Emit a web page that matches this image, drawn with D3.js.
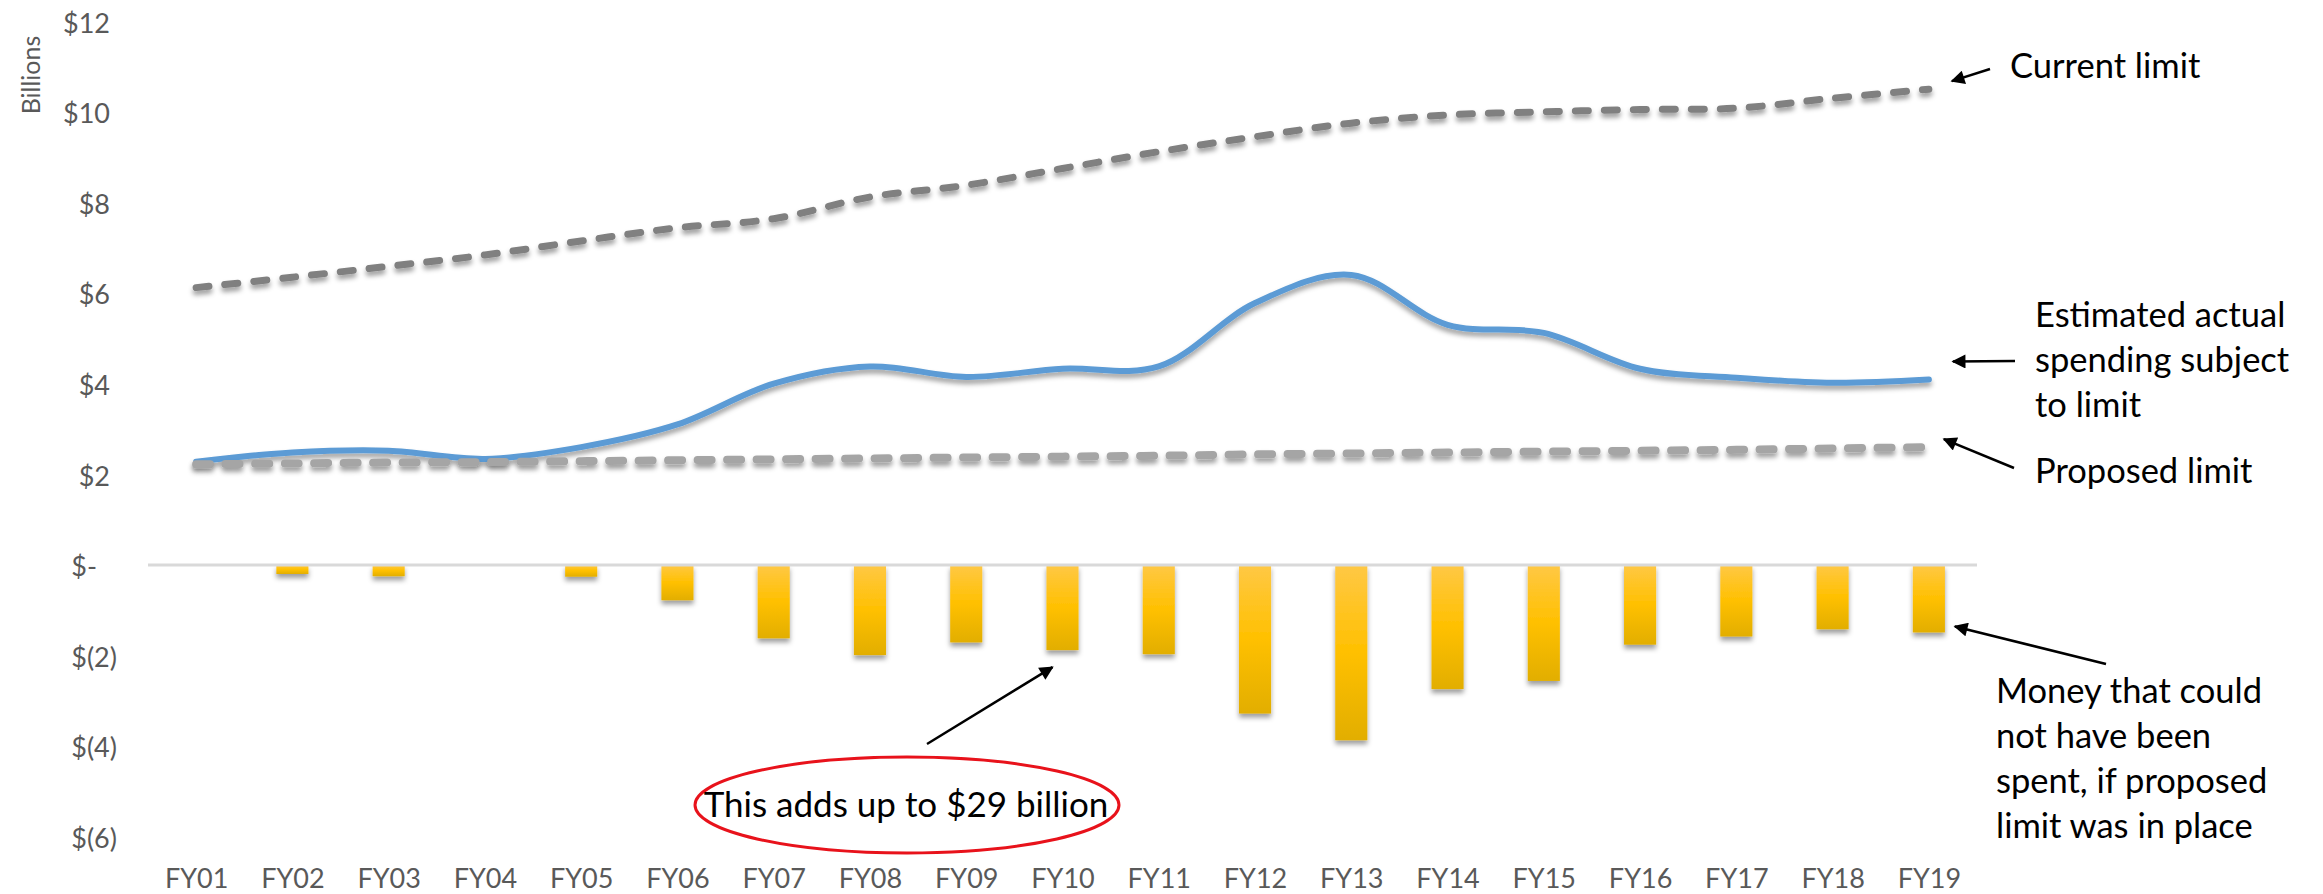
<!DOCTYPE html>
<html>
<head>
<meta charset="utf-8">
<script src="https://cdn.jsdelivr.net/npm/d3@7"></script>
<style>
  html, body { margin: 0; padding: 0; background: #fff; }
  svg { display: block; }
  text { font-family: Lato, "Open Sans", sans-serif; }
</style>
</head>
<body>
<svg id="chart" width="2323" height="894"></svg>
<script>
// Fiscal years on the category axis
const years = ["FY01","FY02","FY03","FY04","FY05","FY06","FY07","FY08","FY09","FY10",
               "FY11","FY12","FY13","FY14","FY15","FY16","FY17","FY18","FY19"];

// Billions of dollars
const currentLimit = [6.12, 6.35, 6.59, 6.84, 7.15, 7.44, 7.64, 8.12, 8.38, 8.75,
                      9.12, 9.45, 9.75, 9.93, 10.0, 10.05, 10.08, 10.3, 10.5];
const actualSpending = [2.28, 2.48, 2.52, 2.34, 2.6, 3.1, 4.0, 4.38, 4.15, 4.33,
                        4.38, 5.78, 6.4, 5.3, 5.12, 4.33, 4.13, 4.02, 4.09];
const proposedLimit = [2.22, 2.24, 2.26, 2.27, 2.29, 2.31, 2.33, 2.35, 2.37, 2.39,
                       2.41, 2.44, 2.46, 2.48, 2.5, 2.52, 2.54, 2.57, 2.6];
// Spending above the proposed limit (shown as negative bars)
const notSpendable = [0, -0.2, -0.25, 0, -0.26, -0.78, -1.62, -1.99, -1.71, -1.88,
                      -1.97, -3.28, -3.87, -2.74, -2.56, -1.76, -1.58, -1.42, -1.49];

const yTicks = [12, 10, 8, 6, 4, 2, 0, -2, -4, -6];

const svg = d3.select("#chart");

const x = d3.scalePoint().domain(years).range([148, 1977]).padding(0.5);
const step = x.step();
const y = d3.scaleLinear().domain([-6, 12]).range([836.8, 21.2]);

const defs = svg.append("defs");

const shadow = defs.append("filter")
  .attr("id", "shadow")
  .attr("filterUnits", "userSpaceOnUse")
  .attr("x", 0).attr("y", 0).attr("width", 2323).attr("height", 894);
shadow.append("feDropShadow")
  .attr("dx", 0).attr("dy", 4).attr("stdDeviation", 2.4)
  .attr("flood-color", "#000").attr("flood-opacity", 0.38);

const grad = defs.append("linearGradient")
  .attr("id", "gold").attr("x1", 0).attr("y1", 0).attr("x2", 0).attr("y2", 1);
grad.append("stop").attr("offset", "0%").attr("stop-color", "#FFC845");
grad.append("stop").attr("offset", "50%").attr("stop-color", "#FFC000");
grad.append("stop").attr("offset", "100%").attr("stop-color", "#E2AE00");

defs.append("marker")
  .attr("id", "head")
  .attr("viewBox", "0 0 10 10")
  .attr("refX", 9).attr("refY", 5)
  .attr("markerWidth", 16).attr("markerHeight", 14)
  .attr("markerUnits", "userSpaceOnUse")
  .attr("orient", "auto")
  .append("path").attr("d", "M0,0 L10,5 L0,10 Z").attr("fill", "#000");

// Y axis
const fmt = v => v > 0 ? `$${v}` : v < 0 ? `$(${-v})` : "$-";
const yAxis = svg.append("g")
  .attr("transform", "translate(110,0)")
  .call(d3.axisLeft(y).tickValues(yTicks).tickSize(0).tickPadding(0).tickFormat(fmt));
yAxis.select(".domain").remove();
yAxis.selectAll("text")
  .attr("font-family", "Lato, sans-serif")
  .attr("font-size", 27)
  .attr("fill", "#595959")
  .attr("dy", "0.4em")
  .attr("x", d => d < 0 ? 7 : d === 0 ? -13 : 0);

svg.append("text")
  .attr("transform", "translate(40,75) rotate(-90)")
  .attr("text-anchor", "middle")
  .attr("font-size", 25)
  .attr("fill", "#595959")
  .text("Billions");

// X axis
const xAxis = svg.append("g")
  .attr("transform", "translate(0,869)")
  .call(d3.axisBottom(x).tickSize(0).tickPadding(0));
xAxis.select(".domain").remove();
xAxis.selectAll("text")
  .attr("font-family", "Lato, sans-serif")
  .attr("font-size", 27)
  .attr("fill", "#595959")
  .attr("dy", "0.71em");

// Bars
const barW = step / 3;
svg.append("g").selectAll("rect")
  .data(years.map((d, i) => ({ year: d, v: notSpendable[i] })).filter(d => d.v !== 0))
  .join("rect")
  .attr("x", d => x(d.year) - barW / 2)
  .attr("y", d => y(Math.max(0, d.v)))
  .attr("width", barW)
  .attr("height", d => Math.abs(y(d.v) - y(0)))
  .attr("fill", "url(#gold)")
  .attr("filter", "url(#shadow)");

// Zero line
svg.append("line")
  .attr("x1", x.range()[0]).attr("x2", x.range()[1])
  .attr("y1", y(0)).attr("y2", y(0))
  .attr("stroke", "#D9D9D9").attr("stroke-width", 3);

// Lines
const line = d3.line()
  .x((d, i) => x(years[i]))
  .y(d => y(d))
  .curve(d3.curveCatmullRom.alpha(0.5));

svg.append("path")
  .datum(actualSpending)
  .attr("d", line)
  .attr("fill", "none")
  .attr("stroke", "#5B9BD5")
  .attr("stroke-width", 6)
  .attr("stroke-linecap", "round")
  .attr("filter", "url(#shadow)");

svg.append("path")
  .datum(proposedLimit)
  .attr("d", line)
  .attr("fill", "none")
  .attr("stroke", "#A5A5A5")
  .attr("stroke-width", 8)
  .attr("stroke-linecap", "round")
  .attr("stroke-dasharray", "14,15.5")
  .attr("filter", "url(#shadow)");

svg.append("path")
  .datum(currentLimit)
  .attr("d", line)
  .attr("fill", "none")
  .attr("stroke", "#808080")
  .attr("stroke-width", 7)
  .attr("stroke-linecap", "round")
  .attr("stroke-dasharray", "13,16")
  .attr("filter", "url(#shadow)");

// Annotations
const last = years.length - 1;
const xl = x(years[last]);
const arrow = (x1, y1, x2, y2) => svg.append("line")
  .attr("x1", x1).attr("y1", y1).attr("x2", x2).attr("y2", y2)
  .attr("stroke", "#000").attr("stroke-width", 2.5)
  .attr("marker-end", "url(#head)");

const note = (lines, x0, y0) => {
  const t = svg.append("text")
    .attr("font-size", 34.5).attr("fill", "#000");
  lines.forEach((s, i) => t.append("tspan").attr("x", x0).attr("y", y0 + i * 45).text(s));
};

arrow(1990, 69, xl + 23, y(currentLimit[last]) - 8);
note(["Current limit"], 2010, 78);

arrow(2015, 361, xl + 24, y(actualSpending[last]) - 18);
note(["Estimated actual", "spending subject", "to limit"], 2035, 327);

arrow(2014, 468, xl + 15, y(proposedLimit[last]) - 8);
note(["Proposed limit"], 2035, 483);

arrow(2106, 664, xl + 26, y(notSpendable[last]) - 6);
note(["Money that could", "not have been", "spent, if proposed", "limit was in place"], 1996, 703);

const i10 = years.indexOf("FY10");
arrow(927, 744, x(years[i10]) - 10, y(notSpendable[i10]) + 17);

svg.append("ellipse")
  .attr("cx", 907).attr("cy", 805).attr("rx", 212).attr("ry", 48)
  .attr("fill", "none").attr("stroke", "#E8121B").attr("stroke-width", 3);

const total = d3.sum(notSpendable, v => -v);
svg.append("text")
  .attr("x", 906).attr("y", 817)
  .attr("text-anchor", "middle")
  .attr("font-size", 35)
  .attr("fill", "#000")
  .text(`This adds up to $${Math.round(total)} billion`);
</script>
</body>
</html>
